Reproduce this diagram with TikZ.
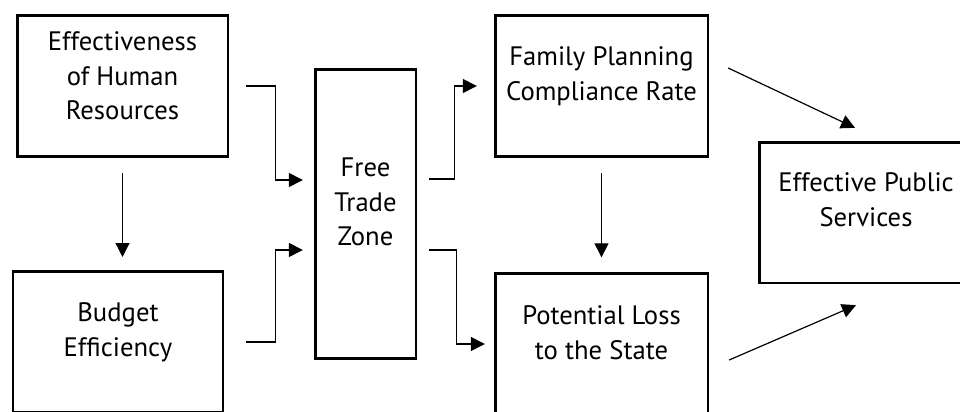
\documentclass[tikz,border=0pt]{standalone}
\usepackage{fontspec}
\setmainfont{PT Sans}
\usetikzlibrary{arrows.meta}
\begin{document}
\begin{tikzpicture}[x=0.75pt,y=-0.75pt,line join=miter,
  box/.style={draw,line width=2pt,rectangle,inner sep=0pt},
  boxtext/.style={align=center,inner sep=0pt,yshift=7.5pt,
    font=\fontsize{20}{26}\selectfont},
  conn/.style={line width=0.9pt,-{Triangle[length=10.5pt,width=10.5pt]}}]
  \useasboundingbox (0,0) rectangle (960,411);
  \clip (0,0) rectangle (960,411);
  \node[box,minimum width=158pt,minimum height=106pt] (hr) at (122.5,86) {};
  \node[box,minimum width=157.5pt,minimum height=106pt] (budget) at (118,342) {};
  \node[box,minimum width=75.5pt,minimum height=217pt] (ftz) at (365.5,214) {};
  \node[box,minimum width=159.5pt,minimum height=106pt] (fp) at (601.5,86) {};
  \node[box,minimum width=159.5pt,minimum height=106pt] (loss) at (601.5,344) {};
  \node[box,minimum width=160pt,minimum height=105.5pt] (eps) at (866,212.5) {};
  \node[boxtext] (hr-t) at (hr) {Effectiveness\\of Human\\Resources};
  \node[boxtext] (budget-t) at (budget) {Budget\\Efficiency};
  \node[boxtext,yshift=1.5pt] (ftz-t) at (ftz) {Free\\Trade\\Zone};
  \node[boxtext] (fp-t) at (fp) {Family Planning\\Compliance Rate};
  \node[boxtext,yshift=1pt] (loss-t) at (loss) {Potential Loss\\to the State};
  \node[boxtext,yshift=2pt] (eps-t) at (eps) {Effective Public\\Services};
  \draw[conn] ([xshift=12.75pt]hr.east) -- ++(29,0) |- ([xshift=-8.25pt,yshift=25.5pt]ftz.west);
  \draw[conn] ([xshift=16.5pt]budget.east) -- ++(29,0) |- ([xshift=-8.25pt,yshift=-27pt]ftz.west);
  \draw[conn] ([xshift=9pt,yshift=26.25pt]ftz.east) -- ++(25,0) |- ([xshift=-12.75pt]fp.west);
  \draw[conn] ([xshift=9pt,yshift=-27pt]ftz.east) -- ++(27,0) |- ([xshift=-6.75pt]loss.west);
  \draw[conn,shorten <=11.25pt,shorten >=9.75pt] (hr.south) -- (hr.south |- budget.north);
  \draw[conn,shorten <=11.25pt,shorten >=11pt] (fp.south) -- (loss.north);
  \draw[conn] ([xshift=14.25pt,yshift=13.5pt]fp.east) -- ([xshift=-8.25pt,yshift=9.75pt]eps.north);
  \draw[conn] ([xshift=15pt,yshift=-12pt]loss.east) -- ([xshift=-7.5pt,yshift=-15.75pt]eps.south);
\end{tikzpicture}
\end{document}
